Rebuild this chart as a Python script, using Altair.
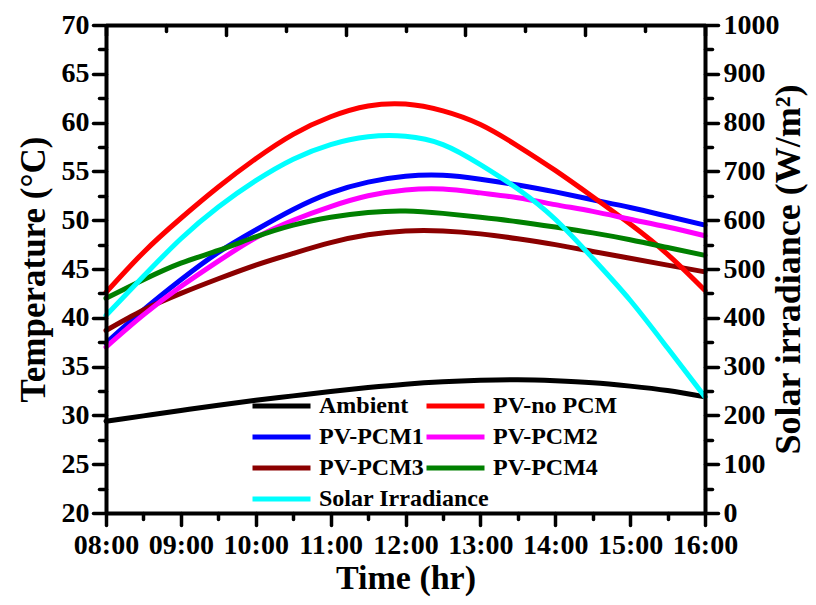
import altair as alt
import pandas as pd

# ---- data ----
time_hr = [8, 8.5, 9, 9.5, 10, 10.5, 11, 11.5, 12, 12.5, 13, 13.5, 14, 14.5, 15, 15.5, 16]
ambient = [29.4, 29.95, 30.5, 31.05, 31.55, 32.0, 32.45, 32.85, 33.2, 33.45, 33.6, 33.65, 33.55, 33.35, 33.0, 32.55, 31.9]
pv_no_pcm = [42.6, 46.7, 50.2, 53.4, 56.3, 58.8, 60.6, 61.7, 61.9, 61.2, 59.8, 57.6, 55.1, 52.4, 49.6, 46.5, 42.8]
pv_pcm1 = [37.4, 40.8, 43.9, 46.7, 49.0, 51.1, 52.8, 53.9, 54.5, 54.6, 54.2, 53.6, 52.9, 52.1, 51.3, 50.4, 49.5]
pv_pcm2 = [37.0, 40.3, 43.2, 45.8, 48.2, 50.0, 51.4, 52.5, 53.1, 53.2, 52.8, 52.3, 51.6, 50.9, 50.1, 49.3, 48.4]
pv_pcm3 = [38.7, 40.8, 42.5, 44.0, 45.4, 46.6, 47.7, 48.5, 48.9, 48.9, 48.6, 48.1, 47.5, 46.8, 46.1, 45.4, 44.7]
pv_pcm4 = [42.0, 43.9, 45.6, 46.9, 48.3, 49.5, 50.3, 50.8, 50.95, 50.7, 50.3, 49.85, 49.3, 48.7, 48.0, 47.2, 46.4]
solar_irradiance = [405, 485, 562, 627, 681, 725, 755, 771, 772, 755, 714, 664, 602, 522, 436, 338, 238]

names_a = ["Ambient", "PV-PCM1", "PV-PCM3"]
names_b = ["PV-no PCM", "PV-PCM2", "PV-PCM4"]
irr_name = "Solar Irradiance"
colors_a = ["#000000", "#0000FF", "#8B0000", "#00FFFF"]
colors_b = ["#FF0000", "#FF00FF", "#008000"]

x_hour_ticks = [8, 9, 10, 11, 12, 13, 14, 15, 16]
x_half_ticks = [8.5, 9.5, 10.5, 11.5, 12.5, 13.5, 14.5, 15.5]
top_major = [8, 9.6, 11.2, 12.8, 14.4, 16]
top_minor = [8.8, 10.4, 12.0, 13.6, 15.2]
temp_major = [20, 25, 30, 35, 40, 45, 50, 55, 60, 65, 70]
temp_minor = [22.5, 27.5, 32.5, 37.5, 42.5, 47.5, 52.5, 57.5, 62.5, 67.5]
irr_major = [0, 100, 200, 300, 400, 500, 600, 700, 800, 900, 1000]
irr_minor = [50, 150, 250, 350, 450, 550, 650, 750, 850, 950]

# ---- tables ----
def long(names, series):
    rows = []
    for n, s in zip(names, series):
        for t, v in zip(time_hr, s):
            rows.append({"time": t, "value": v, "series": n})
    return pd.DataFrame(rows)

df_a = long(names_a, [ambient, pv_pcm1, pv_pcm3])
df_b = long(names_b, [pv_no_pcm, pv_pcm2, pv_pcm4])
df_i = long([irr_name], [solar_irradiance])

FONT = "Liberation Serif"
W, H = 599, 488

ax = dict(domainColor="black", domainWidth=4, tickColor="black", tickWidth=3.5,
          tickCap="round", labelFont=FONT, labelFontSize=28, labelFontWeight="bold",
          labelColor="black", titleFont=FONT, titleFontWeight="bold", titleColor="black",
          grid=False)
minor = dict(ax, labels=False, domain=False, title=None)

x_scale = alt.Scale(domain=[8, 16], nice=False, zero=False)
t_scale = alt.Scale(domain=[20, 70], nice=False, zero=False)
i_scale = alt.Scale(domain=[0, 1000], nice=False, zero=False)

color_scale = alt.Scale(domain=names_a + [irr_name], range=colors_a)
stroke_scale = alt.Scale(domain=names_b, range=colors_b)

leg = dict(title=None, orient="none", direction="vertical", symbolType="stroke",
           symbolSize=3364, symbolStrokeWidth=5, labelFont=FONT, labelFontSize=24,
           labelFontWeight="bold", labelColor="black", rowPadding=7, padding=0,
           labelOffset=6, clipHeight=24, labelLimit=400)
legend_a = alt.Legend(legendX=144, legendY=369, **leg)
legend_b = alt.Legend(legendX=318, legendY=369, **leg)

line = dict(strokeWidth=5, strokeCap="round", interpolate="natural")

l1 = alt.Chart(df_a).mark_line(**line).encode(
    x=alt.X("time:Q", scale=x_scale, axis=alt.Axis(
        orient="bottom", values=x_hour_ticks, tickSize=12, labelPadding=6,
        labelFlush=False, labelOverlap=False,
        labelExpr="(datum.value < 10 ? '0' : '') + datum.value + ':00'",
        title="Time (hr)", titleFontSize=34, titlePadding=2, zindex=1, **ax)),
    y=alt.Y("value:Q", scale=t_scale, axis=alt.Axis(
        orient="left", values=temp_major, tickSize=13, labelPadding=4,
        title="Temperature (°C)", titleFontSize=35, titlePadding=10, zindex=1, **ax)),
    color=alt.Color("series:N", scale=color_scale, legend=legend_a),
)

l2 = alt.Chart(df_b).mark_line(**line).encode(
    x=alt.X("time:Q", scale=x_scale, axis=alt.Axis(
        orient="bottom", values=x_half_ticks, tickSize=6, zindex=1, **minor)),
    y=alt.Y("value:Q", scale=t_scale, axis=alt.Axis(
        orient="left", values=temp_minor, tickSize=7, zindex=1, **minor)),
    stroke=alt.Stroke("series:N", scale=stroke_scale, legend=legend_b),
)

l3 = alt.Chart(df_i).mark_line(**line).encode(
    x=alt.X("time:Q", scale=x_scale, axis=alt.Axis(
        orient="bottom", offset=-H, values=top_major, tickSize=10, labels=False,
        title=None, zindex=1, **ax)),
    y=alt.Y("value:Q", scale=i_scale, axis=alt.Axis(
        orient="right", values=irr_major, format="d", tickSize=13, labelPadding=5,
        title="Solar irradiance (W/m²)", titleFontSize=36, titleAngle=270,
        titleBaseline="top", titlePadding=-8, zindex=1, **ax)),
    color=alt.Color("series:N", scale=color_scale, legend=legend_a),
)

l4 = alt.Chart(df_i).mark_line(opacity=0).encode(
    x=alt.X("time:Q", scale=x_scale, axis=alt.Axis(
        orient="bottom", offset=-H, values=top_minor, tickSize=6, zindex=1, **minor)),
    y=alt.Y("value:Q", scale=i_scale, axis=alt.Axis(
        orient="right", values=irr_minor, tickSize=7, zindex=1, **minor)),
)

chart = alt.layer(l1, l2, l3, l4).resolve_scale(
    x="independent", y="independent"
).properties(
    width=W, height=H,
    autosize=alt.AutoSizeParams(type="none"),
    padding={"left": 98, "top": 17, "right": 103, "bottom": 84},
).configure_view(stroke=None)

chart.save("out.html", embed_options={"renderer": "svg", "actions": False})
